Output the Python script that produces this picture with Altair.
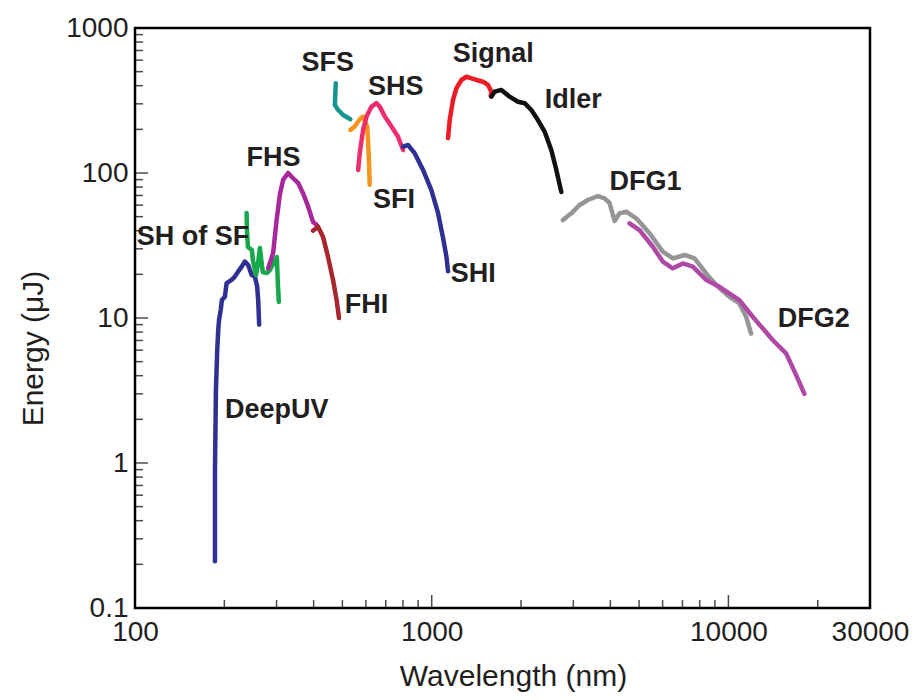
import altair as alt
import pandas as pd

# ---------------- data (wavelength in nm, energy in uJ) ----------------
deepuv_x = [186, 186, 187.4, 189.3, 190.8, 192, 194.5, 196.3, 200.9, 203.6, 211.6, 217.1, 222.8, 228.8, 234.6, 240.7, 247.2, 253.5, 258.1, 260.1, 262.1]
deepuv_y = [0.21, 0.9, 3.2, 6.0, 8.3, 9.7, 11.4, 13.3, 14.0, 17.4, 18.3, 19.3, 20.9, 22.6, 24.5, 23.2, 19.8, 19.3, 16.4, 13.3, 9.0]

shsf_x = [237.7, 238.4, 240.2, 247.7, 249.6, 255.6, 259.4, 263.6, 267.7, 269.8, 278.0, 284.8, 300.6, 303.0, 305.3]
shsf_y = [53, 40.4, 30.9, 29.4, 25.1, 19.8, 23.2, 30.4, 23.2, 20.7, 20.4, 21.4, 26.3, 17.4, 12.9]

fhs_x = [281, 292, 300, 308, 316, 328, 341, 355, 369, 383, 398, 409]
fhs_y = [22, 28, 47, 72, 90, 100, 92, 85, 72, 59, 46, 44]

fhi_x = [398, 414, 430, 447, 465, 478, 487]
fhi_y = [40, 42.6, 36.4, 26.5, 18.3, 13.3, 10]

sfs_x = [475, 471.5, 484, 503, 532]
sfs_y = [416, 294, 272, 251, 235]

sfi_x = [532, 550, 572, 587, 606, 610, 615, 618]
sfi_y = [198, 209, 235, 245, 209, 169, 117, 83]

shs_x = [565, 572, 587, 603, 627, 651, 668, 695, 732, 770, 801]
shs_y = [105, 137, 198, 245, 287, 303, 287, 245, 209, 178, 144]

shi_x = [801, 832, 876, 935, 998, 1050, 1091, 1121, 1135]
shi_y = [152, 156, 137, 105, 76, 53, 36, 26.5, 21]

signal_x = [1135, 1150, 1180, 1211, 1259, 1309, 1361, 1415, 1489, 1548, 1589, 1580]
signal_y = [174, 232, 319, 384, 438, 461, 450, 438, 426, 405, 364, 340]

idler_x = [1589, 1630, 1717, 1831, 1953, 2057, 2167, 2280, 2402, 2529, 2630, 2734]
idler_y = [336, 364, 374, 336, 310, 303, 272, 232, 193, 144, 105, 74]

dfg1_x = [2768, 2954, 3150, 3360, 3630, 3823, 3975, 4133, 4295, 4524, 4890, 5420, 6008, 6494, 7111, 7685, 8412, 9091, 10078, 10889, 11471, 11923]
dfg1_y = [47.4, 52.7, 60.2, 65.1, 69.4, 66.9, 62.1, 46.7, 52.7, 54.1, 48.7, 38.4, 28.7, 25.8, 27.2, 25.8, 20.3, 16.9, 14.0, 12.6, 10.2, 7.8]

dfg2_x = [4642, 5016, 5561, 6008, 6494, 7018, 7584, 8412, 9326, 10889, 12071, 14102, 15643, 16901, 18030]
dfg2_y = [45, 40.4, 31, 24.5, 22, 23.8, 22.6, 18.3, 16.4, 13.3, 10.2, 7.05, 5.7, 4.05, 3.0]

series_names = ["DeepUV", "SH of SF", "FHS", "FHI", "SFS", "SFI", "SHS", "SHI", "Signal", "Idler", "DFG1", "DFG2"]
series_colors = ["#2e3192", "#16a84a", "#a8289c", "#a8262d", "#16958f", "#f7941d", "#ec2f6b", "#2e3192", "#ed1c24", "#111111", "#959595", "#b048a6"]

label_text = ["SH of SF", "DeepUV", "FHS", "FHI", "SFI", "SFS", "SHS", "Signal", "Idler", "DFG1", "DFG2", "SHI"]
label_x = [101.3, 200.9, 237.7, 509.3, 634.5, 364.1, 610.3, 1177.5, 2402, 3975, 14655, 1159]
label_y = [36.4, 2.32, 126.9, 12.3, 65.1, 571, 388.8, 661.9, 318.6, 86.7, 9.84, 20.1]

x_tick_labels = [100, 1000, 10000, 30000]
y_tick_labels = [0.1, 1, 10, 100, 1000]
x_major_ticks = [1000, 10000]
x_minor_ticks = [200, 300, 400, 500, 600, 700, 800, 900, 2000, 3000, 4000, 5000, 6000, 7000, 8000, 9000, 20000]
y_major_ticks = [1, 10, 100]
y_minor_ticks = [0.2, 0.3, 0.4, 0.5, 0.6, 0.7, 0.8, 0.9, 2, 3, 4, 5, 6, 7, 8, 9,
                 20, 30, 40, 50, 60, 70, 80, 90, 200, 300, 400, 500, 600, 700, 800, 900]

# ---------------- build tables ----------------
all_series = [
    ("DeepUV", deepuv_x, deepuv_y), ("SH of SF", shsf_x, shsf_y), ("FHS", fhs_x, fhs_y),
    ("FHI", fhi_x, fhi_y), ("SFS", sfs_x, sfs_y), ("SFI", sfi_x, sfi_y), ("SHS", shs_x, shs_y),
    ("SHI", shi_x, shi_y), ("Signal", signal_x, signal_y), ("Idler", idler_x, idler_y),
    ("DFG1", dfg1_x, dfg1_y), ("DFG2", dfg2_x, dfg2_y),
]
rows = []
for name, xs, ys in all_series:
    for i, (a, b) in enumerate(zip(xs, ys)):
        rows.append({"series": name, "idx": i, "wavelength": a, "energy": b})
df = pd.DataFrame(rows)

labels_df = pd.DataFrame({"text": label_text, "wavelength": label_x, "energy": label_y})

FONT = "Liberation Sans"
TXT = "#231f20"

xscale = alt.Scale(type="log", domain=[100, 30000], nice=False)
yscale = alt.Scale(type="log", domain=[0.1, 1000], nice=False)

xaxis = alt.Axis(values=x_tick_labels, format="~g", title="Wavelength (nm)", grid=False,
                 ticks=False, domain=False, labelFontSize=28, labelFont=FONT, labelColor=TXT,
                 labelPadding=10, labelFlush=False, labelOverlap=False, labelBound=False,
                 titleFont=FONT, titleFontSize=30, titleFontWeight="normal", titleColor=TXT,
                 titleX=378, titleY=77, titleAlign="center", titleBaseline="alphabetic")
yaxis = alt.Axis(values=y_tick_labels, format="~g", title="Energy (μJ)", grid=False,
                 ticks=False, domain=False, labelFontSize=28, labelFont=FONT, labelColor=TXT,
                 labelPadding=7, labelFlush=False, labelOverlap=False, labelBound=False,
                 titleFont=FONT, titleFontSize=30, titleFontWeight="normal", titleColor=TXT,
                 titleX=-102, titleY=320, titleAngle=270, titleAlign="center",
                 titleBaseline="middle")

lines = alt.Chart(df).mark_line(strokeWidth=4.5, strokeCap="round", strokeJoin="round").encode(
    x=alt.X("wavelength:Q", scale=xscale, axis=xaxis),
    y=alt.Y("energy:Q", scale=yscale, axis=yaxis),
    color=alt.Color("series:N", scale=alt.Scale(domain=series_names, range=series_colors), legend=None),
    detail="series:N",
    order="idx:Q",
)

def xticks(vals, size):
    d = pd.DataFrame({"wavelength": vals})
    return alt.Chart(d).mark_tick(orient="vertical", size=size, thickness=1.5, color="black",
                                  yOffset=-size / 2).encode(
        x=alt.X("wavelength:Q", scale=xscale, axis=xaxis),
        y=alt.Y(datum=0.1, scale=yscale, axis=yaxis),
    )

def yticks(vals, size):
    d = pd.DataFrame({"energy": vals})
    return alt.Chart(d).mark_tick(orient="horizontal", size=size, thickness=1.5, color="black",
                                  xOffset=size / 2).encode(
        y=alt.Y("energy:Q", scale=yscale, axis=yaxis),
        x=alt.X(datum=100, scale=xscale, axis=xaxis),
    )

labels = alt.Chart(labels_df).mark_text(align="left", baseline="middle", font=FONT, fontSize=27,
                                        fontWeight="bold", color=TXT).encode(
    x=alt.X("wavelength:Q", scale=xscale, axis=xaxis),
    y=alt.Y("energy:Q", scale=yscale, axis=yaxis),
    text="text:N",
)

chart = alt.layer(
    lines, xticks(x_minor_ticks, 8), xticks(x_major_ticks, 13),
    yticks(y_minor_ticks, 8), yticks(y_major_ticks, 13), labels
).properties(
    width=735, height=580,
    autosize=alt.AutoSizeParams(type="none"),
    padding={"left": 127, "top": 20, "right": 42, "bottom": 84},
    background="white",
).configure_view(stroke="black", strokeWidth=2.5)

chart.save("out.html", embed_options={"renderer": "svg", "actions": False})
